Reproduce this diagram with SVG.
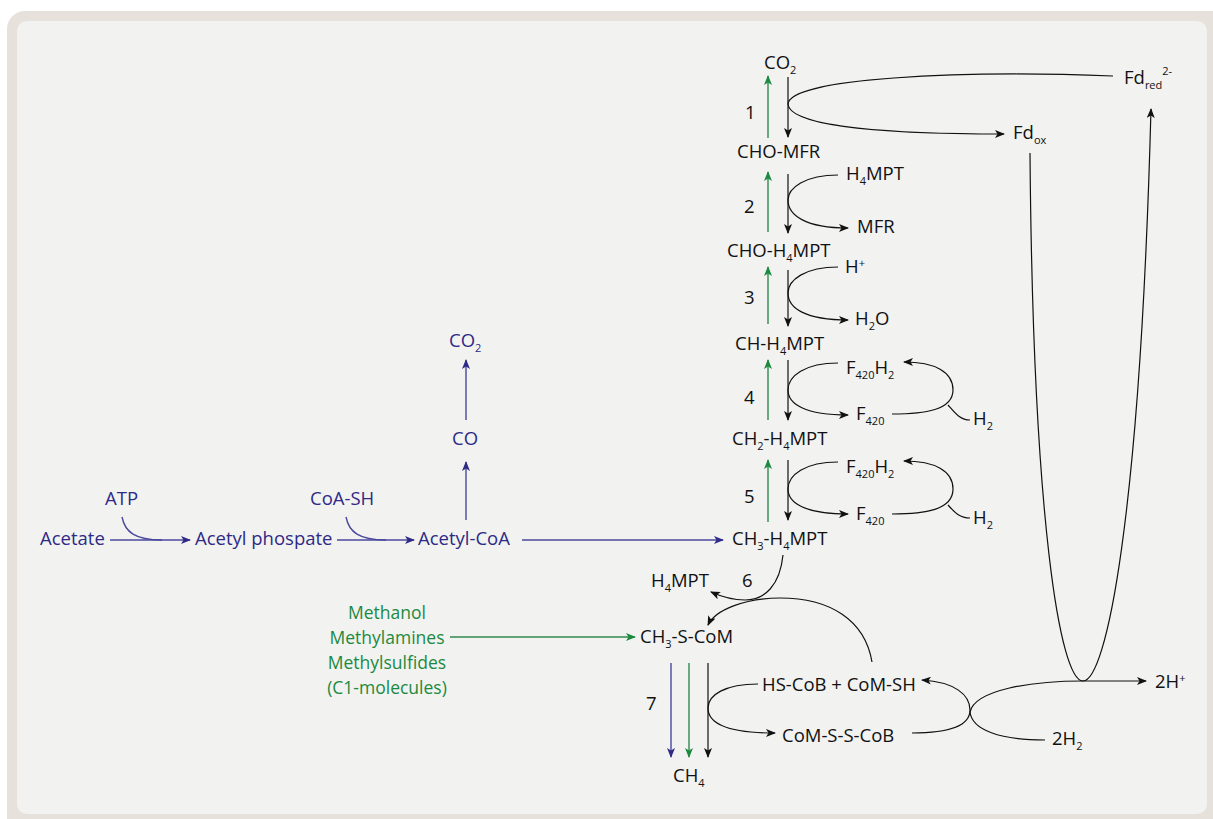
<svg xmlns="http://www.w3.org/2000/svg" width="1213" height="819" viewBox="0 0 1213 819">
<style>
text{font-family:"Open Sans","Noto Sans","Liberation Sans",sans-serif;font-size:18.5px;fill:#111}
.b{fill:#2e2a86}
.g{fill:#1b8a3f;font-size:17.5px}
.s{font-size:11px}
.ln{fill:none;stroke:#111;stroke-width:1.2}
.lb{fill:none;stroke:#4b489d;stroke-width:1.4}
.lg{fill:none;stroke:#2f8a4f;stroke-width:1.4}
</style>
<defs>
<marker id="ak" viewBox="0 0 10 8" refX="9" refY="4" markerWidth="10" markerHeight="8" markerUnits="userSpaceOnUse" orient="auto"><path d="M0,0 L10,4 L0,8 L2.5,4z" fill="#111"/></marker>
<marker id="ab" viewBox="0 0 10 8" refX="9" refY="4" markerWidth="10" markerHeight="8" markerUnits="userSpaceOnUse" orient="auto"><path d="M0,0 L10,4 L0,8 L2.5,4z" fill="#2e2a86"/></marker>
<marker id="ag" viewBox="0 0 10 8" refX="9" refY="4" markerWidth="10" markerHeight="8" markerUnits="userSpaceOnUse" orient="auto"><path d="M0,0 L10,4 L0,8 L2.5,4z" fill="#1b8a3f"/></marker>
</defs>
<rect x="7" y="11" width="1230" height="830" rx="18" fill="#e7e1dc"/>
<rect x="17" y="21" width="1190" height="793" rx="10" fill="#f2f2f1"/>

<g id="connectors">
<path class="lb" d="M110,540 H190" marker-end="url(#ab)"/>
<path class="lb" d="M122,517 C125,532 135,540 162,540"/>
<path class="lb" d="M337,540 H414" marker-end="url(#ab)"/>
<path class="lb" d="M346,517 C349,532 359,540 386,540"/>
<path class="lb" d="M522,540 H723" marker-end="url(#ab)"/>
<path class="lb" d="M466,520 V462" marker-end="url(#ab)"/>
<path class="lb" d="M466,420 V360" marker-end="url(#ab)"/>
<path class="lg" d="M768,138 V76" marker-end="url(#ag)"/>
<path class="ln" d="M788,77 V137" marker-end="url(#ak)"/>
<path class="ln" d="M1113,76 C960,70 790,78 788,104 C790,128 900,134 1004,134" marker-end="url(#ak)"/>
<path class="ln" d="M1030,153 C1033,520 1060,681 1083,681 C1106,681 1140,520 1151,109" marker-end="url(#ak)"/>
<path class="lg" d="M768,232 V172" marker-end="url(#ag)"/>
<path class="ln" d="M788,174 V233" marker-end="url(#ak)"/>
<path class="ln" d="M838,175 C805,175 788,188 788,200 C788,215 805,228 848,228" marker-end="url(#ak)"/>
<path class="lg" d="M768,324 V267" marker-end="url(#ag)"/>
<path class="ln" d="M788,270 V326" marker-end="url(#ak)"/>
<path class="ln" d="M838,267 C805,267 788,280 788,293 C788,308 805,320 848,320" marker-end="url(#ak)"/>
<path class="lg" d="M768,420 V360" marker-end="url(#ag)"/>
<path class="ln" d="M788,360 V420" marker-end="url(#ak)"/>
<path class="ln" d="M838,363 C805,363 788,376 788,390 C788,404 805,415 848,415" marker-end="url(#ak)"/>
<path class="ln" d="M892,414 C925,414 953,410 953,390 C953,372 935,362 904,362" marker-end="url(#ak)"/>
<path class="ln" d="M948,405 C955,413 960,420 970,420"/>
<path class="lg" d="M768,522 V460" marker-end="url(#ag)"/>
<path class="ln" d="M788,460 V520" marker-end="url(#ak)"/>
<path class="ln" d="M838,462 C805,462 788,475 788,489 C788,503 805,514 848,514" marker-end="url(#ak)"/>
<path class="ln" d="M892,514 C925,514 953,510 953,489 C953,471 935,461 904,461" marker-end="url(#ak)"/>
<path class="ln" d="M948,505 C955,513 960,518 970,518"/>
<path class="ln" d="M783,555 C780,585 765,600 745,600 C730,600 720,596 711,592" marker-end="url(#ak)"/>
<path class="ln" d="M872,662 C865,620 830,598 780,598 C745,598 715,610 708,625" marker-end="url(#ak)"/>
<path class="lg" d="M450,637 H635" marker-end="url(#ag)"/>
<path class="lb" d="M671,663 V757" marker-end="url(#ab)"/>
<path class="lg" d="M689,663 V757" marker-end="url(#ag)"/>
<path class="ln" d="M708,663 V757" marker-end="url(#ak)"/>
<path class="ln" d="M758,684 C725,684 708,695 708,708 C708,722 725,733 775,733" marker-end="url(#ak)"/>
<path class="ln" d="M912,733 C950,733 970,725 970,710 C970,695 955,682 922,680" marker-end="url(#ak)"/>
<path class="ln" d="M1045,740 C1000,740 972,730 970,712"/>
<path class="ln" d="M970,712 C975,690 1030,681 1083,681 H1146" marker-end="url(#ak)"/>
</g>

<g id="acetate"><text class="b" x="40" y="545">Acetate</text></g>
<g id="atp"><text class="b" x="105" y="505">ATP</text></g>
<g id="acetyl-phosphate"><text class="b" x="195" y="545">Acetyl phospate</text></g>
<g id="coa-sh"><text class="b" x="310" y="505">CoA-SH</text></g>
<g id="acetyl-coa"><text class="b" x="418" y="545">Acetyl-CoA</text></g>
<g id="co"><text class="b" x="452" y="445">CO</text></g>
<g id="co2-blue"><text class="b" x="449" y="347">CO<tspan class="s" dy="5">2</tspan></text></g>

<g id="co2"><text x="764" y="69">CO<tspan class="s" dy="5">2</tspan></text></g>
<g id="cho-mfr"><text x="737" y="158">CHO-MFR</text></g>
<g id="fd-ox"><text x="1013" y="139">Fd<tspan class="s" dy="5">ox</tspan></text></g>
<g id="fd-red"><text x="1124" y="84">Fd<tspan class="s" dy="5">red</tspan><tspan class="s" dy="-14">2-</tspan></text></g>
<g id="h4mpt-1"><text x="846" y="180">H<tspan class="s" dy="5">4</tspan><tspan dy="-5">MPT</tspan></text></g>
<g id="mfr"><text x="857" y="233">MFR</text></g>
<g id="cho-h4mpt"><text x="727" y="257">CHO-H<tspan class="s" dy="5">4</tspan><tspan dy="-5">MPT</tspan></text></g>
<g id="hplus"><text x="845" y="273">H<tspan class="s" dy="-6">+</tspan></text></g>
<g id="h2o"><text x="855" y="325">H<tspan class="s" dy="5">2</tspan><tspan dy="-5">O</tspan></text></g>
<g id="ch-h4mpt"><text x="735" y="350">CH-H<tspan class="s" dy="5">4</tspan><tspan dy="-5">MPT</tspan></text></g>
<g id="f420h2-1"><text x="846" y="374">F<tspan class="s" dy="5">420</tspan><tspan dy="-5">H</tspan><tspan class="s" dy="5">2</tspan></text></g>
<g id="f420-1"><text x="856" y="420">F<tspan class="s" dy="5">420</tspan></text></g>
<g id="h2-1"><text x="973" y="425">H<tspan class="s" dy="5">2</tspan></text></g>
<g id="ch2-h4mpt"><text x="732" y="445">CH<tspan class="s" dy="5">2</tspan><tspan dy="-5">-H</tspan><tspan class="s" dy="5">4</tspan><tspan dy="-5">MPT</tspan></text></g>
<g id="f420h2-2"><text x="846" y="473">F<tspan class="s" dy="5">420</tspan><tspan dy="-5">H</tspan><tspan class="s" dy="5">2</tspan></text></g>
<g id="f420-2"><text x="856" y="520">F<tspan class="s" dy="5">420</tspan></text></g>
<g id="h2-2"><text x="973" y="524">H<tspan class="s" dy="5">2</tspan></text></g>
<g id="ch3-h4mpt"><text x="732" y="545">CH<tspan class="s" dy="5">3</tspan><tspan dy="-5">-H</tspan><tspan class="s" dy="5">4</tspan><tspan dy="-5">MPT</tspan></text></g>
<g id="h4mpt-2"><text x="651" y="587">H<tspan class="s" dy="5">4</tspan><tspan dy="-5">MPT</tspan></text></g>
<g id="ch3-s-com"><text x="640" y="643">CH<tspan class="s" dy="5">3</tspan><tspan dy="-5">-S-CoM</tspan></text></g>
<g id="methyl-compounds">
<text class="g" x="387" y="619" text-anchor="middle">Methanol</text>
<text class="g" x="387" y="644" text-anchor="middle">Methylamines</text>
<text class="g" x="387" y="669" text-anchor="middle">Methylsulfides</text>
<text class="g" x="387" y="694" text-anchor="middle">(C1-molecules)</text>
</g>
<g id="ch4"><text x="673" y="782">CH<tspan class="s" dy="5">4</tspan></text></g>
<g id="hs-cob-com-sh"><text x="762" y="691">HS-CoB + CoM-SH</text></g>
<g id="com-s-s-cob"><text x="782" y="742">CoM-S-S-CoB</text></g>
<g id="two-h2"><text x="1052" y="745">2H<tspan class="s" dy="5">2</tspan></text></g>
<g id="two-hplus"><text x="1155" y="688">2H<tspan class="s" dy="-6">+</tspan></text></g>
<g id="step-labels">
<text x="745" y="119">1</text>
<text x="744" y="213">2</text>
<text x="744" y="304">3</text>
<text x="744" y="404">4</text>
<text x="744" y="503">5</text>
<text x="742" y="587">6</text>
<text x="646" y="710">7</text>
</g>
</svg>
